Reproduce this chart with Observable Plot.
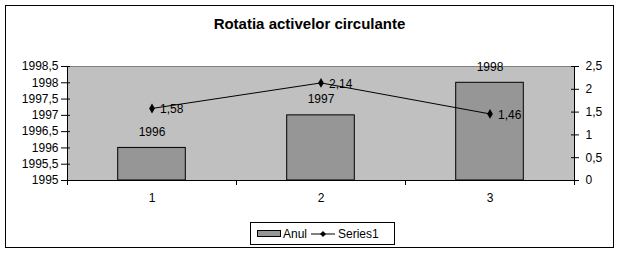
<!DOCTYPE html>
<html><head><meta charset="utf-8">
<script src="https://cdn.jsdelivr.net/npm/d3@7"></script>
<script src="https://cdn.jsdelivr.net/npm/@observablehq/plot@0.6"></script>
<style>
body{margin:0;background:#fff;font-family:"Liberation Sans",Arial,sans-serif;}
#frame{position:absolute;left:5px;top:5px;width:607px;height:241px;border:1px solid #000;}
#title{position:absolute;left:0;top:15px;width:619px;text-align:center;font:bold 15px "Liberation Sans",Arial,sans-serif;color:#000;}
#chart{position:absolute;left:0;top:40px;}
#legend{position:absolute;left:250px;top:222px;width:143px;height:21px;border:1px solid #000;background:#fff;font:12px "Liberation Sans",Arial,sans-serif;display:flex;align-items:center;color:#000;}
#legend .sw{width:22px;height:5px;background:#969696;border:1px solid #000;margin-left:6px;margin-right:2px;}
</style></head>
<body>
<div id="frame"></div>
<div id="title">Rotatia activelor circulante</div>
<div id="chart"></div>
<div id="legend"><div class="sw"></div><span>Anul</span><svg width="26" height="10" style="margin-left:3px;margin-right:2px"><line x1="1" y1="5" x2="25" y2="5" stroke="#000"/><path d="M13,2L16,5L13,8L10,5Z" fill="#000"/></svg><span>Series1</span></div>
<script>
const categories = [1, 2, 3];
const anul = [1996, 1997, 1998];
const series1 = [1.58, 2.14, 1.46];
const leftTicks = [1995, 1995.5, 1996, 1996.5, 1997, 1997.5, 1998, 1998.5];
const rightTicks = [0, 0.5, 1, 1.5, 2, 2.5];

const fmt = v => String(v).replace(".", ",");
const toLeft = v => 1995 + v * 3.5 / 2.5;
const fromLeft = d => Math.round((d - 1995) * 2.5 / 3.5 * 100) / 100;

const data = categories.map((c, i) => ({cat: c, year: anul[i], v: series1[i]}));

const chart = Plot.plot({
  width: 619, height: 175,
  marginLeft: 67, marginRight: 45, marginTop: 26, marginBottom: 35,
  style: {fontFamily: "'Liberation Sans', Arial, sans-serif", fontSize: "12px", color: "#000", background: "none"},
  x: {domain: [0.5, 3.5]},
  y: {domain: [1995, 1998.5]},
  marks: [
    Plot.frame({fill: "#c0c0c0", stroke: "#808080"}),
    Plot.rectY(data, {x1: d => d.cat - 0.2, x2: d => d.cat + 0.2, y1: 1995, y2: "year", fill: "#969696", stroke: "#000"}),
    Plot.ruleX([0.5, 3.5], {stroke: "#000"}),
    Plot.ruleY([1995], {stroke: "#000"}),
    Plot.line(data, {x: "cat", y: d => toLeft(d.v), stroke: "#000", strokeWidth: 1}),
    Plot.dot(data, {x: "cat", y: d => toLeft(d.v), symbol: "diamond", r: 3, fill: "#000", stroke: "none"}),
    Plot.text(data, {x: "cat", y: "year", text: d => String(d.year), dy: -16, fill: "#000"}),
    Plot.text(data, {x: "cat", y: d => toLeft(d.v), text: d => fmt(d.v), dx: 8, dy: 1, textAnchor: "start", fill: "#000"}),
    Plot.axisY({ticks: leftTicks, tickFormat: fmt, tickSize: 9, dx: 3, tickPadding: 3, label: null}),
    Plot.axisY({anchor: "right", ticks: rightTicks.map(toLeft), tickFormat: d => fmt(fromLeft(d)), tickSize: 8, dx: -4, tickPadding: 7, label: null}),
    Plot.axisX({ticks: [0.5, 1.5, 2.5, 3.5], tickFormat: () => "", tickSize: 5, label: null}),
    Plot.axisX({ticks: categories, tickFormat: d => String(d), tickSize: 0, tickPadding: 13, label: null})
  ]
});
document.getElementById("chart").appendChild(chart);
</script>
</body></html>
